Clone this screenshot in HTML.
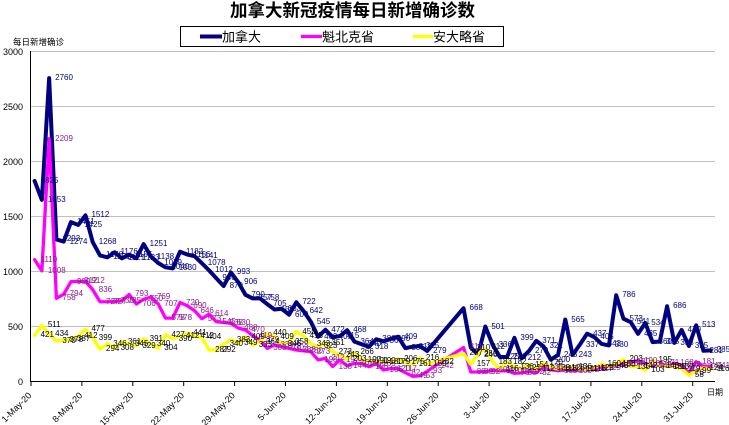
<!DOCTYPE html>
<html><head><meta charset="utf-8">
<style>
html,body{margin:0;padding:0;background:#fff;}
#w{position:relative;width:729px;height:425px;overflow:hidden;background:#fff;}
svg{position:absolute;left:0;top:0;}
#L i{position:absolute;font:normal 8px/8px "Liberation Sans",sans-serif;white-space:nowrap;left:calc(40.6px + var(--i) * 7.27px);top:calc(377.7px - var(--v) * 0.11px);}
#L .c{color:#000080;}
#L .q{color:#8b1a8b;}
#L .o{color:#000;}
</style></head><body>
<div id="w">
<svg width="729" height="425" viewBox="0 0 729 425" xmlns="http://www.w3.org/2000/svg">
<g stroke="#c0c0c0" stroke-width="1">
<line x1="31" y1="51.5" x2="715" y2="51.5"/>
<line x1="31" y1="106.5" x2="715" y2="106.5"/>
<line x1="31" y1="161.5" x2="715" y2="161.5"/>
<line x1="31" y1="216.5" x2="715" y2="216.5"/>
<line x1="31" y1="271.5" x2="715" y2="271.5"/>
<line x1="31" y1="326.5" x2="715" y2="326.5"/>
</g>
<g stroke="#000" stroke-width="1">
<line x1="30.5" y1="51" x2="30.5" y2="382"/>
<line x1="30" y1="381.5" x2="715" y2="381.5"/>
<line x1="31" y1="381" x2="31" y2="386"/>
<line x1="81.9" y1="381" x2="81.9" y2="386"/>
<line x1="132.8" y1="381" x2="132.8" y2="386"/>
<line x1="183.7" y1="381" x2="183.7" y2="386"/>
<line x1="234.6" y1="381" x2="234.6" y2="386"/>
<line x1="285.5" y1="381" x2="285.5" y2="386"/>
<line x1="336.4" y1="381" x2="336.4" y2="386"/>
<line x1="387.3" y1="381" x2="387.3" y2="386"/>
<line x1="438.2" y1="381" x2="438.2" y2="386"/>
<line x1="489.1" y1="381" x2="489.1" y2="386"/>
<line x1="540" y1="381" x2="540" y2="386"/>
<line x1="590.9" y1="381" x2="590.9" y2="386"/>
<line x1="641.8" y1="381" x2="641.8" y2="386"/>
<line x1="692.7" y1="381" x2="692.7" y2="386"/>
</g>
<g font-family="'Liberation Sans',sans-serif" font-size="9" fill="#000" text-anchor="end">
<text x="23" y="55">3000</text>
<text x="23" y="110">2500</text>
<text x="23" y="165">2000</text>
<text x="23" y="220">1500</text>
<text x="23" y="275">1000</text>
<text x="23" y="330">500</text>
<text x="23" y="385">0</text>
</g>
<g font-family="'Liberation Sans',sans-serif" font-size="9" fill="#000" text-anchor="end">
<text x="32" y="396" transform="rotate(-45 32 396)">1-May-20</text>
<text x="82.9" y="396" transform="rotate(-45 82.9 396)">8-May-20</text>
<text x="133.8" y="396" transform="rotate(-45 133.8 396)">15-May-20</text>
<text x="184.7" y="396" transform="rotate(-45 184.7 396)">22-May-20</text>
<text x="235.6" y="396" transform="rotate(-45 235.6 396)">29-May-20</text>
<text x="286.5" y="396" transform="rotate(-45 286.5 396)">5-Jun-20</text>
<text x="337.4" y="396" transform="rotate(-45 337.4 396)">12-Jun-20</text>
<text x="388.3" y="396" transform="rotate(-45 388.3 396)">19-Jun-20</text>
<text x="439.2" y="396" transform="rotate(-45 439.2 396)">26-Jun-20</text>
<text x="490.1" y="396" transform="rotate(-45 490.1 396)">3-Jul-20</text>
<text x="541" y="396" transform="rotate(-45 541 396)">10-Jul-20</text>
<text x="591.9" y="396" transform="rotate(-45 591.9 396)">17-Jul-20</text>
<text x="642.8" y="396" transform="rotate(-45 642.8 396)">24-Jul-20</text>
<text x="693.7" y="396" transform="rotate(-45 693.7 396)">31-Jul-20</text>
</g>
<text x="13" y="45" font-size="8.5" font-family="'Liberation Sans','Noto Sans CJK SC',sans-serif" fill="#000">每日新增确诊</text>
<text x="707" y="395" font-size="8" font-family="'Liberation Sans','Noto Sans CJK SC',sans-serif" fill="#000">日期</text>
<text x="352.5" y="16.5" text-anchor="middle" font-size="17.5" font-weight="bold" font-family="'Liberation Sans','Noto Sans CJK SC',sans-serif" fill="#000">加拿大新冠疫情每日新增确诊数</text>
<rect x="180.5" y="26.5" width="323" height="20" fill="#fff" stroke="#000" stroke-width="1"/>
<line x1="200" y1="36.5" x2="222" y2="36.5" stroke="#000080" stroke-width="4"/>
<line x1="301" y1="36.5" x2="322" y2="36.5" stroke="#ff00ff" stroke-width="3.3"/>
<line x1="413" y1="36.5" x2="433" y2="36.5" stroke="#ffff00" stroke-width="3.3"/>
<g font-size="13" font-family="'Liberation Sans','Noto Sans CJK SC',sans-serif" fill="#000">
<text x="222" y="41.5">加拿大</text>
<text x="322" y="41.5">魁北克省</text>
<text x="433" y="41.5">安大略省</text>
</g>
<g transform="translate(34.6,381.7) scale(7.27,-0.11)" fill="none" stroke-linejoin="round" stroke-linecap="round">
<polyline vector-effect="non-scaling-stroke" stroke="#000080" stroke-width="4" points="0,1825 1,1653 2,2760 3,1293 4,1274 5,1451 6,1425 7,1512 8,1268 9,1148 10,1131 11,1176 12,1121 13,1155 14,1123 15,1251 16,1138 17,1079 18,1040 19,1030 20,1182 21,1156 22,1141 23,1078 24,1012 25,940 26,870 27,993 28,906 29,790 30,757 31,758 32,705 33,656 34,663 35,609 36,722 37,642 38,545 39,409 40,472 41,405 42,415 43,468 44,364 45,340 46,318 47,386 48,367 49,390 50,409 51,305 52,318 53,325 54,279 59,668 60,310 61,246 62,501 63,336 64,225 65,226 66,399 67,212 68,279 69,371 70,321 71,200 72,243 73,565 74,243 75,337 76,437 77,405 78,343 79,330 80,786 81,573 82,541 83,435 84,534 85,360 86,365 87,686 88,353 89,470 90,325 91,513 92,281 93,285"/>
<polyline vector-effect="non-scaling-stroke" stroke="#ff00ff" stroke-width="3.3" points="0,1110 1,1008 2,2209 3,758 4,794 5,909 6,912 7,912 8,836 9,727 10,727 11,730 12,735 13,793 14,706 15,750 16,769 17,707 18,578 19,578 20,720 21,690 22,646 23,573 24,614 25,545 26,538 27,530 28,488 29,470 30,419 31,379 32,303 33,334 34,318 35,303 36,288 37,280 38,273 39,198 40,212 41,138 42,197 43,144 44,167 45,165 46,136 47,165 48,106 49,120 50,117 51,82 52,49 53,53 54,93 55,142 59,311 60,88 61,89 62,92 63,102 64,99 65,100 66,76 67,80 68,92 69,82 70,135 71,109 72,100 73,111 74,100 75,102 76,111 77,117 78,129 79,143 80,150 81,164 82,180 83,190 84,165 85,142 86,171 87,138 88,168 89,148 90,76 91,181 92,141 93,141"/>
<polyline vector-effect="non-scaling-stroke" stroke="#ffff00" stroke-width="3.3" points="0,421 1,511 2,434 3,370 4,378 5,387 6,412 7,477 8,399 9,294 10,346 11,308 12,361 13,345 14,329 15,391 16,340 17,304 18,427 19,390 20,412 21,441 22,412 23,404 24,287 25,292 26,340 27,383 28,349 29,409 30,333 31,364 32,440 33,409 34,346 35,358 36,455 37,415 38,343 39,323 40,351 41,273 42,243 43,203 44,266 45,197 46,191 47,190 48,180 49,179 50,206 51,175 52,161 53,216 54,159 55,182 59,257 60,157 61,250 62,312 63,183 64,116 65,182 66,136 67,121 68,154 69,112 70,170 71,129 72,118 73,128 74,136 75,111 76,116 77,129 78,160 79,143 80,158 81,203 82,135 83,142 84,103 85,195 86,143 87,138 88,137 89,119 90,58 91,99 92,124 93,116"/>
</g>
</svg>
<div id="L">
<i class="c" style="--i:0;--v:1825">1825</i><i class="c" style="--i:1;--v:1653">1653</i><i class="c" style="--i:2;--v:2760">2760</i><i class="c" style="--i:3;--v:1293">1293</i><i class="c" style="--i:4;--v:1274">1274</i><i class="c" style="--i:5;--v:1451">1451</i><i class="c" style="--i:6;--v:1425">1425</i><i class="c" style="--i:7;--v:1512">1512</i><i class="c" style="--i:8;--v:1268">1268</i><i class="c" style="--i:9;--v:1148">1148</i><i class="c" style="--i:10;--v:1131">1131</i><i class="c" style="--i:11;--v:1176">1176</i><i class="c" style="--i:12;--v:1121">1121</i><i class="c" style="--i:13;--v:1155">1155</i><i class="c" style="--i:14;--v:1123">1123</i><i class="c" style="--i:15;--v:1251">1251</i><i class="c" style="--i:16;--v:1138">1138</i><i class="c" style="--i:17;--v:1079">1079</i><i class="c" style="--i:18;--v:1040">1040</i><i class="c" style="--i:19;--v:1030">1030</i><i class="c" style="--i:20;--v:1182">1182</i><i class="c" style="--i:21;--v:1156">1156</i><i class="c" style="--i:22;--v:1141">1141</i><i class="c" style="--i:23;--v:1078">1078</i><i class="c" style="--i:24;--v:1012">1012</i><i class="c" style="--i:25;--v:940">940</i><i class="c" style="--i:26;--v:870">870</i><i class="c" style="--i:27;--v:993">993</i><i class="c" style="--i:28;--v:906">906</i><i class="c" style="--i:29;--v:790">790</i><i class="c" style="--i:30;--v:757">757</i><i class="c" style="--i:31;--v:758">758</i><i class="c" style="--i:32;--v:705">705</i><i class="c" style="--i:33;--v:656">656</i><i class="c" style="--i:34;--v:663">663</i><i class="c" style="--i:35;--v:609">609</i><i class="c" style="--i:36;--v:722">722</i><i class="c" style="--i:37;--v:642">642</i><i class="c" style="--i:38;--v:545">545</i><i class="c" style="--i:39;--v:409">409</i><i class="c" style="--i:40;--v:472">472</i><i class="c" style="--i:41;--v:405">405</i><i class="c" style="--i:42;--v:415">415</i><i class="c" style="--i:43;--v:468">468</i><i class="c" style="--i:44;--v:364">364</i><i class="c" style="--i:45;--v:340">340</i><i class="c" style="--i:46;--v:318">318</i><i class="c" style="--i:47;--v:386">386</i><i class="c" style="--i:48;--v:367">367</i><i class="c" style="--i:49;--v:390">390</i><i class="c" style="--i:50;--v:409">409</i><i class="c" style="--i:51;--v:305">305</i><i class="c" style="--i:52;--v:318">318</i><i class="c" style="--i:53;--v:325">325</i><i class="c" style="--i:54;--v:279">279</i><i class="c" style="--i:59;--v:668">668</i><i class="c" style="--i:60;--v:310">310</i><i class="c" style="--i:61;--v:246">246</i><i class="c" style="--i:62;--v:501">501</i><i class="c" style="--i:63;--v:336">336</i><i class="c" style="--i:64;--v:225">225</i><i class="c" style="--i:65;--v:226">226</i><i class="c" style="--i:66;--v:399">399</i><i class="c" style="--i:67;--v:212">212</i><i class="c" style="--i:68;--v:279">279</i><i class="c" style="--i:69;--v:371">371</i><i class="c" style="--i:70;--v:321">321</i><i class="c" style="--i:71;--v:200">200</i><i class="c" style="--i:72;--v:243">243</i><i class="c" style="--i:73;--v:565">565</i><i class="c" style="--i:74;--v:243">243</i><i class="c" style="--i:75;--v:337">337</i><i class="c" style="--i:76;--v:437">437</i><i class="c" style="--i:77;--v:405">405</i><i class="c" style="--i:78;--v:343">343</i><i class="c" style="--i:79;--v:330">330</i><i class="c" style="--i:80;--v:786">786</i><i class="c" style="--i:81;--v:573">573</i><i class="c" style="--i:82;--v:541">541</i><i class="c" style="--i:83;--v:435">435</i><i class="c" style="--i:84;--v:534">534</i><i class="c" style="--i:85;--v:360">360</i><i class="c" style="--i:86;--v:365">365</i><i class="c" style="--i:87;--v:686">686</i><i class="c" style="--i:88;--v:353">353</i><i class="c" style="--i:89;--v:470">470</i><i class="c" style="--i:90;--v:325">325</i><i class="c" style="--i:91;--v:513">513</i><i class="c" style="--i:92;--v:281">281</i><i class="c" style="--i:93;--v:285">285</i>
<i class="q" style="--i:0;--v:1110">1110</i><i class="q" style="--i:1;--v:1008">1008</i><i class="q" style="--i:2;--v:2209">2209</i><i class="q" style="--i:3;--v:758">758</i><i class="q" style="--i:4;--v:794">794</i><i class="q" style="--i:5;--v:909">909</i><i class="q" style="--i:6;--v:912">912</i><i class="q" style="--i:7;--v:912">912</i><i class="q" style="--i:8;--v:836">836</i><i class="q" style="--i:9;--v:727">727</i><i class="q" style="--i:10;--v:727">727</i><i class="q" style="--i:11;--v:730">730</i><i class="q" style="--i:12;--v:735">735</i><i class="q" style="--i:13;--v:793">793</i><i class="q" style="--i:14;--v:706">706</i><i class="q" style="--i:15;--v:750">750</i><i class="q" style="--i:16;--v:769">769</i><i class="q" style="--i:17;--v:707">707</i><i class="q" style="--i:18;--v:578">578</i><i class="q" style="--i:19;--v:578">578</i><i class="q" style="--i:20;--v:720">720</i><i class="q" style="--i:21;--v:690">690</i><i class="q" style="--i:22;--v:646">646</i><i class="q" style="--i:23;--v:573">573</i><i class="q" style="--i:24;--v:614">614</i><i class="q" style="--i:25;--v:545">545</i><i class="q" style="--i:26;--v:538">538</i><i class="q" style="--i:27;--v:530">530</i><i class="q" style="--i:28;--v:488">488</i><i class="q" style="--i:29;--v:470">470</i><i class="q" style="--i:30;--v:419">419</i><i class="q" style="--i:31;--v:379">379</i><i class="q" style="--i:32;--v:303">303</i><i class="q" style="--i:33;--v:334">334</i><i class="q" style="--i:34;--v:318">318</i><i class="q" style="--i:35;--v:303">303</i><i class="q" style="--i:36;--v:288">288</i><i class="q" style="--i:37;--v:280">280</i><i class="q" style="--i:38;--v:273">273</i><i class="q" style="--i:39;--v:198">198</i><i class="q" style="--i:40;--v:212">212</i><i class="q" style="--i:41;--v:138">138</i><i class="q" style="--i:42;--v:197">197</i><i class="q" style="--i:43;--v:144">144</i><i class="q" style="--i:44;--v:167">167</i><i class="q" style="--i:45;--v:165">165</i><i class="q" style="--i:46;--v:136">136</i><i class="q" style="--i:47;--v:165">165</i><i class="q" style="--i:48;--v:106">106</i><i class="q" style="--i:49;--v:120">120</i><i class="q" style="--i:50;--v:117">117</i><i class="q" style="--i:51;--v:82">82</i><i class="q" style="--i:52;--v:49">49</i><i class="q" style="--i:53;--v:53">53</i><i class="q" style="--i:54;--v:93">93</i><i class="q" style="--i:55;--v:142">142</i><i class="q" style="--i:59;--v:311">311</i><i class="q" style="--i:60;--v:88">88</i><i class="q" style="--i:61;--v:89">89</i><i class="q" style="--i:62;--v:92">92</i><i class="q" style="--i:63;--v:102">102</i><i class="q" style="--i:64;--v:99">99</i><i class="q" style="--i:65;--v:100">100</i><i class="q" style="--i:66;--v:76">76</i><i class="q" style="--i:67;--v:80">80</i><i class="q" style="--i:68;--v:92">92</i><i class="q" style="--i:69;--v:82">82</i><i class="q" style="--i:70;--v:135">135</i><i class="q" style="--i:71;--v:109">109</i><i class="q" style="--i:72;--v:100">100</i><i class="q" style="--i:73;--v:111">111</i><i class="q" style="--i:74;--v:100">100</i><i class="q" style="--i:75;--v:102">102</i><i class="q" style="--i:76;--v:111">111</i><i class="q" style="--i:77;--v:117">117</i><i class="q" style="--i:78;--v:129">129</i><i class="q" style="--i:79;--v:143">143</i><i class="q" style="--i:80;--v:150">150</i><i class="q" style="--i:81;--v:164">164</i><i class="q" style="--i:82;--v:180">180</i><i class="q" style="--i:83;--v:190">190</i><i class="q" style="--i:84;--v:165">165</i><i class="q" style="--i:85;--v:142">142</i><i class="q" style="--i:86;--v:171">171</i><i class="q" style="--i:87;--v:138">138</i><i class="q" style="--i:88;--v:168">168</i><i class="q" style="--i:89;--v:148">148</i><i class="q" style="--i:90;--v:76">76</i><i class="q" style="--i:91;--v:181">181</i><i class="q" style="--i:92;--v:141">141</i><i class="q" style="--i:93;--v:141">141</i>
<i class="o" style="--i:0;--v:421">421</i><i class="o" style="--i:1;--v:511">511</i><i class="o" style="--i:2;--v:434">434</i><i class="o" style="--i:3;--v:370">370</i><i class="o" style="--i:4;--v:378">378</i><i class="o" style="--i:5;--v:387">387</i><i class="o" style="--i:6;--v:412">412</i><i class="o" style="--i:7;--v:477">477</i><i class="o" style="--i:8;--v:399">399</i><i class="o" style="--i:9;--v:294">294</i><i class="o" style="--i:10;--v:346">346</i><i class="o" style="--i:11;--v:308">308</i><i class="o" style="--i:12;--v:361">361</i><i class="o" style="--i:13;--v:345">345</i><i class="o" style="--i:14;--v:329">329</i><i class="o" style="--i:15;--v:391">391</i><i class="o" style="--i:16;--v:340">340</i><i class="o" style="--i:17;--v:304">304</i><i class="o" style="--i:18;--v:427">427</i><i class="o" style="--i:19;--v:390">390</i><i class="o" style="--i:20;--v:412">412</i><i class="o" style="--i:21;--v:441">441</i><i class="o" style="--i:22;--v:412">412</i><i class="o" style="--i:23;--v:404">404</i><i class="o" style="--i:24;--v:287">287</i><i class="o" style="--i:25;--v:292">292</i><i class="o" style="--i:26;--v:340">340</i><i class="o" style="--i:27;--v:383">383</i><i class="o" style="--i:28;--v:349">349</i><i class="o" style="--i:29;--v:409">409</i><i class="o" style="--i:30;--v:333">333</i><i class="o" style="--i:31;--v:364">364</i><i class="o" style="--i:32;--v:440">440</i><i class="o" style="--i:33;--v:409">409</i><i class="o" style="--i:34;--v:346">346</i><i class="o" style="--i:35;--v:358">358</i><i class="o" style="--i:36;--v:455">455</i><i class="o" style="--i:37;--v:415">415</i><i class="o" style="--i:38;--v:343">343</i><i class="o" style="--i:39;--v:323">323</i><i class="o" style="--i:40;--v:351">351</i><i class="o" style="--i:41;--v:273">273</i><i class="o" style="--i:42;--v:243">243</i><i class="o" style="--i:43;--v:203">203</i><i class="o" style="--i:44;--v:266">266</i><i class="o" style="--i:45;--v:197">197</i><i class="o" style="--i:46;--v:191">191</i><i class="o" style="--i:47;--v:190">190</i><i class="o" style="--i:48;--v:180">180</i><i class="o" style="--i:49;--v:179">179</i><i class="o" style="--i:50;--v:206">206</i><i class="o" style="--i:51;--v:175">175</i><i class="o" style="--i:52;--v:161">161</i><i class="o" style="--i:53;--v:216">216</i><i class="o" style="--i:54;--v:159">159</i><i class="o" style="--i:55;--v:182">182</i><i class="o" style="--i:59;--v:257">257</i><i class="o" style="--i:60;--v:157">157</i><i class="o" style="--i:61;--v:250">250</i><i class="o" style="--i:62;--v:312">312</i><i class="o" style="--i:63;--v:183">183</i><i class="o" style="--i:64;--v:116">116</i><i class="o" style="--i:65;--v:182">182</i><i class="o" style="--i:66;--v:136">136</i><i class="o" style="--i:67;--v:121">121</i><i class="o" style="--i:68;--v:154">154</i><i class="o" style="--i:69;--v:112">112</i><i class="o" style="--i:70;--v:170">170</i><i class="o" style="--i:71;--v:129">129</i><i class="o" style="--i:72;--v:118">118</i><i class="o" style="--i:73;--v:128">128</i><i class="o" style="--i:74;--v:136">136</i><i class="o" style="--i:75;--v:111">111</i><i class="o" style="--i:76;--v:116">116</i><i class="o" style="--i:77;--v:129">129</i><i class="o" style="--i:78;--v:160">160</i><i class="o" style="--i:79;--v:143">143</i><i class="o" style="--i:80;--v:158">158</i><i class="o" style="--i:81;--v:203">203</i><i class="o" style="--i:82;--v:135">135</i><i class="o" style="--i:83;--v:142">142</i><i class="o" style="--i:84;--v:103">103</i><i class="o" style="--i:85;--v:195">195</i><i class="o" style="--i:86;--v:143">143</i><i class="o" style="--i:87;--v:138">138</i><i class="o" style="--i:88;--v:137">137</i><i class="o" style="--i:89;--v:119">119</i><i class="o" style="--i:90;--v:58">58</i><i class="o" style="--i:91;--v:99">99</i><i class="o" style="--i:92;--v:124">124</i><i class="o" style="--i:93;--v:116">116</i>
</div>
</div>
</body></html>
